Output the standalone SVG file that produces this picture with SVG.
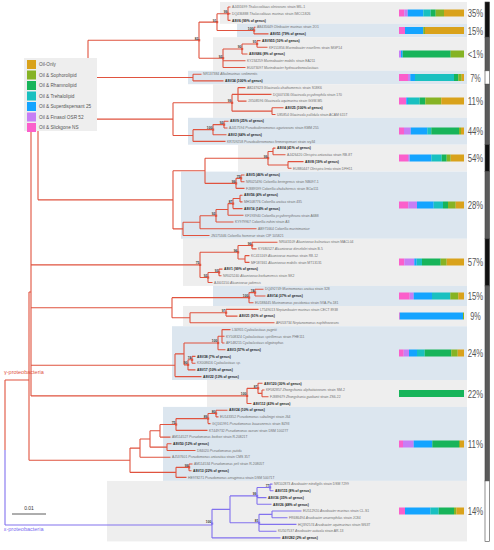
<svg xmlns="http://www.w3.org/2000/svg" width="494" height="550" viewBox="0 0 494 550">
<style>
.l{font-family:"Liberation Sans",Arial,sans-serif;font-size:3.4px;fill:#707070}
.a{font-weight:bold;fill:#222}
.i{font-style:italic}
.b{font-family:"Liberation Sans",Arial,sans-serif;font-size:3.2px;font-weight:bold;fill:#333;text-anchor:end}
.t{fill:none;stroke:#e0533f;stroke-width:1.1}
.e{fill:none;stroke:#8272ee;stroke-width:1.1}
.m{fill:#e0533f}
.p{font-family:"Liberation Sans",Arial,sans-serif;font-size:11.5px;fill:#555;text-anchor:middle}
.lg{font-family:"Liberation Sans",Arial,sans-serif;font-size:4.7px;fill:#555}
.g{fill:#eeeeee}.u{fill:#dce6ef}
.c0{fill:#d9a21b}.c1{fill:#86b324}.c2{fill:#17b45a}.c3{fill:#19c0c0}.c4{fill:#14a4ff}.c5{fill:#c77ef5}.c6{fill:#fb5fcb}
</style>
<rect width="494" height="550" fill="#fff"/>
<g id="bands">
<rect class="g" x="220" y="2" width="247" height="21.8"/>
<rect class="u" x="237" y="23.8" width="230" height="13.4"/>
<rect class="g" x="213" y="37.2" width="254" height="33.6"/>
<rect class="u" x="188" y="70.8" width="279" height="13.4"/>
<rect class="g" x="213" y="84.2" width="254" height="33.6"/>
<rect class="u" x="188" y="117.8" width="279" height="26.9"/>
<rect class="g" x="238" y="144.7" width="229" height="26.9"/>
<rect class="u" x="181" y="171.6" width="286" height="67.2"/>
<rect class="g" x="183" y="238.8" width="284" height="47.1"/>
<rect class="u" x="213" y="285.9" width="254" height="20.1"/>
<rect class="g" x="183" y="306" width="284" height="20.2"/>
<rect class="u" x="172" y="326.2" width="295" height="53.8"/>
<rect class="g" x="207" y="380" width="260" height="26.9"/>
<rect class="u" x="163" y="406.9" width="304" height="74"/>
<rect class="g" x="107" y="480.9" width="360" height="60.5"/>
</g>
<g id="connectors">
<path class="t" d="M228,7V20.4M228,7H230.5M228,13.7H230.5M228,20.4H230.5
M254,27.2V33.9M254,27.2H255.5M254,33.9H268.5
M217,13.7V30.55M217,13.7H228M217,30.55H254
M257,40.6V47.3M257,40.6H260.5M257,47.3H267.5
M242,44V54M242,44H257M242,54H247.5
M223,49V67.5M223,49H242M223,60.8H245.5M223,67.5H245.5
M199,22.1V58.25M199,22.1H217M199,58.25H223
M193,74.2V80.9M193,74.2H201.5M193,80.9H223.5
M88,40.2V77.55M88,40.2H199M88,77.55H193
M238,87.6V101.1M238,87.6H245.5M238,94.4H271.5M238,101.1H246.5
M272,107.8V114.5M272,107.8H283.5M272,114.5H275.5
M232,94.4V111.15M232,94.4H238M232,111.15H272
M224,121.2V128M224,121.2H228.5M224,128H227.5
M213,124.6V134.7M213,124.6H224M213,134.7H226.5
M193,129.65V141.4M193,129.65H213M193,141.4H225.5
M173,102.8V135.5M173,102.8H232M173,135.5H193
M273,148.1V154.8M273,148.1H275.5M273,154.8H285.5
M288,161.6V168.3M288,161.6H303.5M288,168.3H291.5
M268,151.45V164.95M268,151.45H273M268,164.95H288
M241,175V181.7M241,175H244.5M241,181.7H244.5
M236,178.35V188.4M236,178.35H241M236,188.4H244.5
M205,158.2V183.4M205,158.2H268M205,183.4H236
M240,195.2V201.9M240,195.2H242.5M240,201.9H242.5
M233,198.55V208.6M233,198.55H240M233,208.6H242.5
M228,203.6V215.3M228,203.6H233M228,215.3H243.5
M216,209.45V222M216,209.45H228M216,222H233.5
M200,215.7V228.8M200,215.7H216M200,228.8H256.5
M183,222.25V235.5M183,222.25H200M183,235.5H209.5
M173,170.8V228.9M173,170.8H205M173,228.9H183
M252,242.2V248.9M252,242.2H277.5M252,248.9H256.5
M245,255.6V262.4M245,255.6H249.5M245,262.4H249.5
M238,245.55V259M238,245.55H252M238,259H245
M219,269.1V275.8M219,269.1H222.5M219,275.8H221.5
M208,272.45V282.5M208,272.45H219M208,282.5H212.5
M200,252.3V277.5M200,252.3H238M200,277.5H208
M255,289.2V296M255,289.2H263.5M255,296H265.5
M249,292.6V302.7M249,292.6H255M249,302.7H253.5
M226,309.4V316.1M226,309.4H258.5M226,316.1H237.5
M190,312.75V322.8M190,312.75H226M190,322.8H274.5
M172,297.65V317.8M172,297.65H249M172,317.8H190
M222,329.6V343M222,329.6H230.5M222,336.3H224.5M222,343H224.5
M218,336.3V349.7M218,336.3H222M218,349.7H225.5
M192,356.4V363.2M192,356.4H195.5M192,363.2H195.5
M188,359.8V369.9M188,359.8H192M188,369.9H195.5
M184,343V364.85M184,343H218M184,364.85H188
M175,353.9V376.6M175,353.9H184M175,376.6H201.5
M262,390V396.8M262,390H264.5M262,396.8H268.5
M258,383.3V393.4M258,383.3H262.5M258,393.4H262
M247,388.35V403.5M247,388.35H258M247,403.5H251.5
M216,410.2V416.9M216,410.2H227.5M216,416.9H218.5
M208,413.55V423.6M208,413.55H216M208,423.6H210.5
M176,418.6V430.4M176,418.6H208M176,430.4H207.5
M160,424.5V437.1M160,424.5H176M160,437.1H170.5
M167,443.8V450.5M167,443.8H171.5M167,450.5H195.5
M150,430.8V447.15M150,430.8H160M150,447.15H167
M140,439V457.2M140,439H150M140,457.2H170.5
M189,464V470.7M189,464H192.5M189,470.7H191.5
M176,467.35V477.4M176,467.35H189M176,477.4H186.5
M130,448.1V472.4M130,448.1H140M130,472.4H176
M38,58.9V199.85M38,58.9H88M38,119.15H173M38,199.85H173
M31,126V395.9M31,126H38M31,264.9H200M31,307.7H172M31,365.25H175M31,395.9H247
M29,292V460.25M29,292H31M29,460.25H130
M5,380H29M5,380V450"/>
<path class="e" d="M5,450V525M5,525H212
M270,484.1V490.8M270,484.1H272.5M270,490.8H273.5
M257,487.45V504.3M257,487.45H270M257,497.6H266.5M257,504.3H271.5
M272,511V517.7M272,511H301.5M272,517.7H287.5
M259,514.35V531.2M259,514.35H272M259,524.4H296.5M259,531.2H276.5
M230,495.9V522.8M230,495.9H257M230,522.8H259
M212,509.35V537.9M212,509.35H230M212,537.9H280.5"/>
</g>
<g id="legend">
<rect x="24" y="58" width="73" height="73" fill="#eeeeee"/>
<rect class="c0" x="27" y="60" width="9" height="9"/><text class="lg" x="39" y="66.2">Oil-Only</text>
<rect class="c1" x="27" y="70.5" width="9" height="9"/><text class="lg" x="39" y="76.7">Oil &amp; Sophorolipid</text>
<rect class="c2" x="27" y="81" width="9" height="9"/><text class="lg" x="39" y="87.2">Oil &amp; Rhamnolipid</text>
<rect class="c3" x="27" y="91.5" width="9" height="9"/><text class="lg" x="39" y="97.7">Oil &amp; Trehalolipid</text>
<rect class="c4" x="27" y="102" width="9" height="9"/><text class="lg" x="39" y="108.2">Oil &amp; Superdispersant 25</text>
<rect class="c5" x="27" y="112.5" width="9" height="9"/><text class="lg" x="39" y="118.7">Oil &amp; Finasol OSR 52</text>
<rect class="c6" x="27" y="123" width="9" height="9"/><text class="lg" x="39" y="129.2">Oil &amp; Slickgone NS</text>
</g>
<g id="support">
<g class="m">
<rect x="227" y="12.6" width="2.2" height="2.2"/><rect x="253" y="29.4" width="2.2" height="2.2"/><rect x="216" y="21" width="2.2" height="2.2"/><rect x="256" y="42.9" width="2.2" height="2.2"/><rect x="241" y="47.9" width="2.2" height="2.2"/><rect x="222" y="57.1" width="2.2" height="2.2"/><rect x="198" y="39.1" width="2.2" height="2.2"/><rect x="231" y="101.7" width="2.2" height="2.2"/><rect x="223" y="123.5" width="2.2" height="2.2"/><rect x="212" y="128.5" width="2.2" height="2.2"/><rect x="267" y="157.1" width="2.2" height="2.2"/><rect x="240" y="177.2" width="2.2" height="2.2"/><rect x="235" y="182.3" width="2.2" height="2.2"/><rect x="232" y="202.5" width="2.2" height="2.2"/><rect x="215" y="214.6" width="2.2" height="2.2"/><rect x="251" y="244.4" width="2.2" height="2.2"/><rect x="237" y="251.2" width="2.2" height="2.2"/><rect x="218" y="271.3" width="2.2" height="2.2"/><rect x="207" y="276.4" width="2.2" height="2.2"/><rect x="199" y="263.8" width="2.2" height="2.2"/><rect x="254" y="291.5" width="2.2" height="2.2"/><rect x="248" y="296.5" width="2.2" height="2.2"/><rect x="225" y="311.6" width="2.2" height="2.2"/><rect x="217" y="341.9" width="2.2" height="2.2"/><rect x="191" y="358.7" width="2.2" height="2.2"/><rect x="187" y="363.7" width="2.2" height="2.2"/><rect x="257" y="387.2" width="2.2" height="2.2"/><rect x="246" y="394.8" width="2.2" height="2.2"/><rect x="215" y="412.4" width="2.2" height="2.2"/><rect x="207" y="417.5" width="2.2" height="2.2"/><rect x="175" y="423.4" width="2.2" height="2.2"/><rect x="188" y="466.2" width="2.2" height="2.2"/>
</g>
<g fill="#8272ee"><rect x="269" y="486.3" width="2.2" height="2.2"/><rect x="256" y="494.8" width="2.2" height="2.2"/><rect x="258" y="521.7" width="2.2" height="2.2"/><rect x="211" y="522.5" width="2.2" height="2.2"/></g>
<text class="b" x="227.2" y="13.1">99</text><text class="b" x="253.2" y="30">100</text><text class="b" x="216.2" y="21.5">91</text><text class="b" x="256.2" y="43.4">91</text><text class="b" x="241.2" y="48.4">90</text><text class="b" x="222.2" y="57.7">92</text><text class="b" x="198.2" y="39.6">82</text><text class="b" x="231.2" y="102.2">99</text><text class="b" x="223.2" y="124">92</text><text class="b" x="212.2" y="129">100</text><text class="b" x="267.2" y="157.6">99</text><text class="b" x="240.2" y="177.7">75</text><text class="b" x="235.2" y="182.8">99</text><text class="b" x="232.2" y="203">87</text><text class="b" x="215.2" y="215.1">92</text><text class="b" x="251.2" y="244.9">96</text><text class="b" x="237.2" y="251.7">96</text><text class="b" x="218.2" y="271.8">93</text><text class="b" x="207.2" y="276.9">92</text><text class="b" x="199.2" y="264.3">75</text><text class="b" x="254.2" y="292">74</text><text class="b" x="248.2" y="297">100</text><text class="b" x="225.2" y="312.1">97</text><text class="b" x="217.2" y="342.4">100</text><text class="b" x="191.2" y="359.2">74</text><text class="b" x="187.2" y="364.2">90</text><text class="b" x="257.2" y="387.7">87</text><text class="b" x="246.2" y="395.3">100</text><text class="b" x="215.2" y="412.9">80</text><text class="b" x="207.2" y="418">89</text><text class="b" x="175.2" y="423.9">75</text><text class="b" x="188.2" y="466.7">99</text><text class="b" x="269.2" y="486.8">77</text><text class="b" x="256.2" y="495.3">99</text><text class="b" x="258.2" y="522.2">81</text><text class="b" x="211.2" y="523">100</text>
</g>
<g id="leaves">
<text class="l" x="232" y="8.2">AJ431699 <tspan class="i">Thalassolituus oleivorans</tspan> strain MIL-1</text>
<text class="l" x="232" y="14.9">DQ436888 <tspan class="i">Thalassolituus marinus</tspan> strain IMCC1826</text>
<text class="l a" x="232" y="21.6">ASV6 (99% of genus)</text>
<text class="l" x="257" y="28.4">AB435649 <tspan class="i">Oleibacter marinus</tspan> strain 2O1</text>
<text class="l a" x="270" y="35.1">ASV51 (79% of genus)</text>
<text class="l a" x="262" y="41.8">ASV955 (10% of genus)</text>
<text class="l" x="269" y="48.5">KF151856 <tspan class="i">Marinobacter excellens</tspan> strain MGP14</text>
<text class="l a" x="249" y="55.2">ASV686 (8% of genus)</text>
<text class="l" x="247" y="62">KY234259 <tspan class="i">Marinobacter mobilis</tspan> strain EA211</text>
<text class="l" x="247" y="68.7">EU073097 <tspan class="i">Marinobacter hydrocarbonoclasticus</tspan></text>
<text class="l" x="203" y="75.4">NR137384 <tspan class="i">Alkalimarinus sedimentis</tspan></text>
<text class="l a" x="225" y="82.1">ASV34 (100% of genus)</text>
<text class="l" x="247" y="88.8">AB247623 <tspan class="i">Glaciecola chathamensis</tspan> strain S18K6</text>
<text class="l" x="273" y="95.6">DQ007436 <tspan class="i">Glaciecola psychrophila</tspan> strain 170</text>
<text class="l" x="248" y="102.3">JX508596 <tspan class="i">Glaciecola aquimarina</tspan> strain GGW-M5</text>
<text class="l a" x="285" y="109">ASV25 (100% of genus)</text>
<text class="l" x="277" y="115.7">U85854 <tspan class="i">Glaciecola pallidula</tspan> strain ACAM 615T</text>
<text class="l a" x="230" y="122.4">ASV9 (25% of genus)</text>
<text class="l" x="229" y="129.2">AJ417594 <tspan class="i">Pseudoalteromonas agarivorans</tspan> strain KMM 255</text>
<text class="l a" x="228" y="135.9">ASV2 (64% of genus)</text>
<text class="l" x="227" y="142.6">KR709258 <tspan class="i">Pseudoalteromonas fenneropenaei</tspan> strain rzy34</text>
<text class="l a" x="277" y="149.3">ASV4 (41% of genus)</text>
<text class="l" x="287" y="156">AJ426420 <tspan class="i">Oleispira antarctica</tspan> strain RB-8T</text>
<text class="l a" x="305" y="162.8">ASV8 (19% of genus)</text>
<text class="l" x="293" y="169.5">EU880447 <tspan class="i">Oleispira lenta</tspan> strain DFH11</text>
<text class="l a" x="246" y="176.2">ASV5 (46% of genus)</text>
<text class="l" x="246" y="182.9">NR025490 <tspan class="i">Colwellia beringensis</tspan> strain NB097-1</text>
<text class="l" x="246" y="189.6">FJ889599 <tspan class="i">Colwellia chukchiensis</tspan> strain BCw111</text>
<text class="l a" x="244" y="196.4">ASV56 (4% of genus)</text>
<text class="l" x="244" y="203.1">MH108776 <tspan class="i">Colwellia arctica</tspan> strain 435</text>
<text class="l a" x="244" y="209.8">ASV16 (14% of genus)</text>
<text class="l" x="245" y="216.5">KF193940 <tspan class="i">Colwellia psychrerythraea</tspan> strain A6B8</text>
<text class="l" x="235" y="223.2">KY979967 <tspan class="i">Colwellia echini</tspan> strain A3</text>
<text class="l" x="258" y="230">AB971664 <tspan class="i">Colwellia marinimaniae</tspan></text>
<text class="l" x="211" y="236.7">JN175346 <tspan class="i">Colwellia hornerae</tspan> strain CIP 105821</text>
<text class="l" x="279" y="243.4">NR043109 <tspan class="i">Alcanivorax balearicus</tspan> strain MACL04</text>
<text class="l" x="258" y="250.1">KY680527 <tspan class="i">Alcanivorax dieselolei</tspan> strain B-5</text>
<text class="l" x="251" y="256.8">KC415169 <tspan class="i">Alcanivorax marinus</tspan> strain R8-12</text>
<text class="l" x="251" y="263.6">MF187461 <tspan class="i">Alcanivorax mobilis</tspan> strain MT13131</text>
<text class="l a" x="224" y="270.3">ASV1 (99% of genus)</text>
<text class="l" x="223" y="277">NR025240 <tspan class="i">Alcanivorax borkumensis</tspan> strain SK2</text>
<text class="l" x="214" y="283.7">AJ001150 <tspan class="i">Alcanivorax jadensis</tspan></text>
<text class="l" x="265" y="290.4">DQ492749 <tspan class="i">Marinomonas arctica</tspan> strain 328</text>
<text class="l a" x="267" y="297.2">ASV14 (37% of genus)</text>
<text class="l" x="255" y="303.9">EU188445 <tspan class="i">Marinomonas posidonica</tspan> strain IVIA-Po-181</text>
<text class="l" x="260" y="310.6">LT549013 <tspan class="i">Neptunibacter marinus</tspan> strain CECT 8938</text>
<text class="l a" x="239" y="317.3">ASV21 (91% of genus)</text>
<text class="l" x="276" y="324">AF053734 <tspan class="i">Neptunomonas naphthovorans</tspan></text>
<text class="l" x="232" y="330.8">L34955 <tspan class="i">Cycloclasticus pugetii</tspan></text>
<text class="l" x="226" y="337.5">KY508324 <tspan class="i">Cycloclasticus spirillensus</tspan> strain PHE111</text>
<text class="l" x="226" y="344.2">AF148215 <tspan class="i">Cycloclasticus oligotrophus</tspan></text>
<text class="l a" x="227" y="350.9">ASV3 (57% of genus)</text>
<text class="l a" x="197" y="357.6">ASV38 (7% of genus)</text>
<text class="l" x="197" y="364.4">KX008616 <tspan class="i">Cycloclasticus sp.</tspan></text>
<text class="l a" x="197" y="371.1">ASV17 (10% of genus)</text>
<text class="l a" x="203" y="377.8">ASV22 (13% of genus)</text>
<text class="l a" x="264" y="384.5">ASV120 (30% of genus)</text>
<text class="l" x="266" y="391.2">KF582857 <tspan class="i">Zhongshania aliphaticivorans</tspan> strain SM-2</text>
<text class="l" x="270" y="398">FJ889679 <tspan class="i">Zhongshania guokunii</tspan> strain ZS6-22</text>
<text class="l a" x="253" y="404.7">ASV112 (43% of genus)</text>
<text class="l a" x="229" y="411.4">ASV24 (10% of genus)</text>
<text class="l" x="220" y="418.1">EU143352 <tspan class="i">Pseudomonas sabulinigri</tspan> strain J64</text>
<text class="l" x="212" y="424.8">GQ161991 <tspan class="i">Pseudomonas bauzanensis</tspan> strain BZ93</text>
<text class="l" x="209" y="431.6">KT449732 <tspan class="i">Pseudomonas oceani</tspan> strain DSM 100277</text>
<text class="l" x="172" y="438.3">AM114527 <tspan class="i">Pseudomonas borbori</tspan> strain R-20821T</text>
<text class="l a" x="173" y="445">ASV50 (12% of genus)</text>
<text class="l" x="197" y="451.7">D84020 <tspan class="i">Pseudomonas putida</tspan></text>
<text class="l" x="172" y="458.4">AJ537601 <tspan class="i">Pseudomonas antarctica</tspan> strain CMS 35T</text>
<text class="l" x="194" y="465.2">AM114534 <tspan class="i">Pseudomonas peli</tspan> strain R-20805T</text>
<text class="l a" x="193" y="471.9">ASV13 (22% of genus)</text>
<text class="l" x="188" y="478.6">HE978271 <tspan class="i">Pseudomonas aeruginosa</tspan> strain DSM 50071T</text>
<text class="l" x="274" y="485.3">NR102873 <tspan class="i">Arcobacter nitrofigilis</tspan> strain DSM 7299</text>
<text class="l a" x="275" y="492">ASV115 (8% of genus)</text>
<text class="l a" x="268" y="498.8">ASV36 (35% of genus)</text>
<text class="l a" x="273" y="505.5">ASV26 (48% of genus)</text>
<text class="l" x="303" y="512.2">EU512920 <tspan class="i">Arcobacter marinus</tspan> strain CL-S1</text>
<text class="l" x="289" y="518.9">FR686494 <tspan class="i">Arcobacter anaerophilus</tspan> strain JC84</text>
<text class="l" x="298" y="525.6">HQ392574 <tspan class="i">Arcobacter aquimarinus</tspan> strain W63T</text>
<text class="l" x="278" y="532.4">KU507537 <tspan class="i">Arcobacter acticola</tspan> strain AR-13</text>
<text class="l a" x="282" y="539.1">ASV282 (2% of genus)</text>
</g>
<g id="bars">
<rect class="c6" x="399" y="9.5" width="5.3" height="7"/><rect class="c5" x="404.3" y="9.5" width="3.4" height="7"/><rect class="c4" x="407.7" y="9.5" width="15.6" height="7"/><rect class="c3" x="423.3" y="9.5" width="7.4" height="7"/><rect class="c2" x="430.7" y="9.5" width="5" height="7"/><rect class="c1" x="435.7" y="9.5" width="8.3" height="7"/><rect class="c0" x="444" y="9.5" width="20" height="7"/>
<rect class="c6" x="399" y="27" width="6" height="7"/><rect class="c4" x="405" y="27" width="18.3" height="7"/><rect class="c1" x="423.3" y="27" width="1.7" height="7"/><rect class="c0" x="425" y="27" width="39" height="7"/>
<rect class="c5" x="399" y="50.5" width="2" height="7"/><rect class="c4" x="401" y="50.5" width="1.7" height="7"/><rect class="c2" x="402.7" y="50.5" width="48" height="7"/><rect class="c1" x="450.7" y="50.5" width="13.3" height="7"/>
<rect class="c6" x="399" y="74" width="9" height="7"/><rect class="c5" x="408" y="74" width="2.3" height="7"/><rect class="c4" x="410.3" y="74" width="4.7" height="7"/><rect class="c3" x="415" y="74" width="39" height="7"/><rect class="c2" x="454" y="74" width="4.3" height="7"/><rect class="c1" x="458.3" y="74" width="3.4" height="7"/><rect class="c0" x="461.7" y="74" width="2.3" height="7"/>
<rect class="c6" x="399" y="97.5" width="7.3" height="7"/><rect class="c4" x="406.3" y="97.5" width="1.7" height="7"/><rect class="c3" x="408" y="97.5" width="11.7" height="7"/><rect class="c2" x="419.7" y="97.5" width="5.6" height="7"/><rect class="c1" x="425.3" y="97.5" width="16" height="7"/><rect class="c0" x="441.3" y="97.5" width="22.7" height="7"/>
<rect class="c6" x="399" y="127.5" width="5" height="7"/><rect class="c5" x="404" y="127.5" width="6.7" height="7"/><rect class="c4" x="410.7" y="127.5" width="16.6" height="7"/><rect class="c3" x="427.3" y="127.5" width="4" height="7"/><rect class="c2" x="431.3" y="127.5" width="27.7" height="7"/><rect class="c1" x="459" y="127.5" width="2" height="7"/><rect class="c0" x="461" y="127.5" width="3" height="7"/>
<rect class="c6" x="399" y="154.5" width="9" height="7"/><rect class="c5" x="408" y="154.5" width="1.7" height="7"/><rect class="c4" x="409.7" y="154.5" width="21.6" height="7"/><rect class="c3" x="431.3" y="154.5" width="10.4" height="7"/><rect class="c2" x="441.7" y="154.5" width="5" height="7"/><rect class="c1" x="446.7" y="154.5" width="4" height="7"/><rect class="c0" x="450.7" y="154.5" width="13.3" height="7"/>
<rect class="c6" x="399" y="201.5" width="9.3" height="7"/><rect class="c5" x="408.3" y="201.5" width="8.7" height="7"/><rect class="c4" x="417" y="201.5" width="16.7" height="7"/><rect class="c3" x="433.7" y="201.5" width="9.3" height="7"/><rect class="c2" x="443" y="201.5" width="5" height="7"/><rect class="c1" x="448" y="201.5" width="7.7" height="7"/><rect class="c0" x="455.7" y="201.5" width="8.3" height="7"/>
<rect class="c6" x="399" y="258.5" width="5.3" height="7"/><rect class="c5" x="404.3" y="258.5" width="10" height="7"/><rect class="c4" x="414.3" y="258.5" width="2.4" height="7"/><rect class="c3" x="416.7" y="258.5" width="5.3" height="7"/><rect class="c2" x="422" y="258.5" width="18.7" height="7"/><rect class="c1" x="440.7" y="258.5" width="6" height="7"/><rect class="c0" x="446.7" y="258.5" width="17.3" height="7"/>
<rect class="c6" x="399" y="292.5" width="10.7" height="7"/><rect class="c5" x="409.7" y="292.5" width="4" height="7"/><rect class="c4" x="413.7" y="292.5" width="18.3" height="7"/><rect class="c3" x="432" y="292.5" width="18.3" height="7"/><rect class="c1" x="450.3" y="292.5" width="8" height="7"/><rect class="c0" x="458.3" y="292.5" width="5.7" height="7"/>
<rect class="c6" x="399" y="312.5" width="0.8" height="7"/><rect class="c4" x="399.8" y="312.5" width="63.2" height="7"/><rect class="c1" x="463" y="312.5" width="1" height="7"/>
<rect class="c6" x="399" y="349.5" width="4.7" height="7"/><rect class="c5" x="403.7" y="349.5" width="5.3" height="7"/><rect class="c4" x="409" y="349.5" width="8" height="7"/><rect class="c3" x="417" y="349.5" width="7.7" height="7"/><rect class="c2" x="424.7" y="349.5" width="26.6" height="7"/><rect class="c1" x="451.3" y="349.5" width="6.4" height="7"/><rect class="c0" x="457.7" y="349.5" width="6.3" height="7"/>
<rect class="c2" x="399" y="390" width="65" height="7"/>
<rect class="c6" x="399" y="440.5" width="4" height="7"/><rect class="c5" x="403" y="440.5" width="10.7" height="7"/><rect class="c4" x="413.7" y="440.5" width="18.6" height="7"/><rect class="c2" x="432.3" y="440.5" width="26.7" height="7"/><rect class="c1" x="459" y="440.5" width="1" height="7"/><rect class="c0" x="460" y="440.5" width="4" height="7"/>
<rect class="c6" x="399" y="507.5" width="6" height="7"/><rect class="c4" x="405" y="507.5" width="25.3" height="7"/><rect class="c3" x="430.3" y="507.5" width="8.4" height="7"/><rect class="c2" x="438.7" y="507.5" width="15.3" height="7"/><rect class="c1" x="454" y="507.5" width="2.3" height="7"/><rect class="c0" x="456.3" y="507.5" width="7.7" height="7"/>
</g>
<g id="percent">
<text class="p" x="475.5" y="17" textLength="15.5" lengthAdjust="spacingAndGlyphs">35%</text>
<text class="p" x="475.5" y="34.5" textLength="15.5" lengthAdjust="spacingAndGlyphs">15%</text>
<text class="p" x="475.5" y="58" textLength="15.5" lengthAdjust="spacingAndGlyphs">&lt;1%</text>
<text class="p" x="475.5" y="81.5" textLength="10.5" lengthAdjust="spacingAndGlyphs">7%</text>
<text class="p" x="475.5" y="105" textLength="15.5" lengthAdjust="spacingAndGlyphs">11%</text>
<text class="p" x="475.5" y="135" textLength="15.5" lengthAdjust="spacingAndGlyphs">44%</text>
<text class="p" x="475.5" y="162" textLength="15.5" lengthAdjust="spacingAndGlyphs">54%</text>
<text class="p" x="475.5" y="209" textLength="15.5" lengthAdjust="spacingAndGlyphs">28%</text>
<text class="p" x="475.5" y="266" textLength="15.5" lengthAdjust="spacingAndGlyphs">57%</text>
<text class="p" x="475.5" y="300" textLength="15.5" lengthAdjust="spacingAndGlyphs">15%</text>
<text class="p" x="475.5" y="320" textLength="10.5" lengthAdjust="spacingAndGlyphs">9%</text>
<text class="p" x="475.5" y="357" textLength="15.5" lengthAdjust="spacingAndGlyphs">24%</text>
<text class="p" x="475.5" y="397.5" textLength="15.5" lengthAdjust="spacingAndGlyphs">22%</text>
<text class="p" x="475.5" y="448" textLength="15.5" lengthAdjust="spacingAndGlyphs">11%</text>
<text class="p" x="475.5" y="515" textLength="15.5" lengthAdjust="spacingAndGlyphs">14%</text>
</g>
<g id="sidebar" stroke="#444" stroke-width="0.6">
<rect x="485" y="2" width="4.5" height="35.2" fill="#111"/>
<rect x="485" y="37.2" width="4.5" height="33.6" fill="#5a5a5a"/>
<rect x="485" y="70.8" width="4.5" height="13.4" fill="#fff"/>
<rect x="485" y="84.2" width="4.5" height="60.5" fill="#5a5a5a"/>
<rect x="485" y="144.7" width="4.5" height="26.9" fill="#111"/>
<rect x="485" y="171.6" width="4.5" height="67.2" fill="#5a5a5a"/>
<rect x="485" y="238.8" width="4.5" height="47.1" fill="#111"/>
<rect x="485" y="285.9" width="4.5" height="195" fill="#5a5a5a"/>
<rect x="485" y="480.9" width="4.5" height="60.5" fill="#fff"/>
</g>
<g id="labels">
<text x="4" y="374" font-family="Liberation Sans, Arial, sans-serif" font-size="5.5" fill="#e0533f">γ-proteobacteria</text>
<text x="4" y="531" font-family="Liberation Sans, Arial, sans-serif" font-size="5.5" fill="#7a6cf0">ε-proteobacteria</text>
<path d="M12,514H46" stroke="#333" stroke-width="0.8"/>
<text x="29" y="510" font-family="Liberation Sans, Arial, sans-serif" font-size="5" fill="#333" text-anchor="middle">0.01</text>
</g>
</svg>
